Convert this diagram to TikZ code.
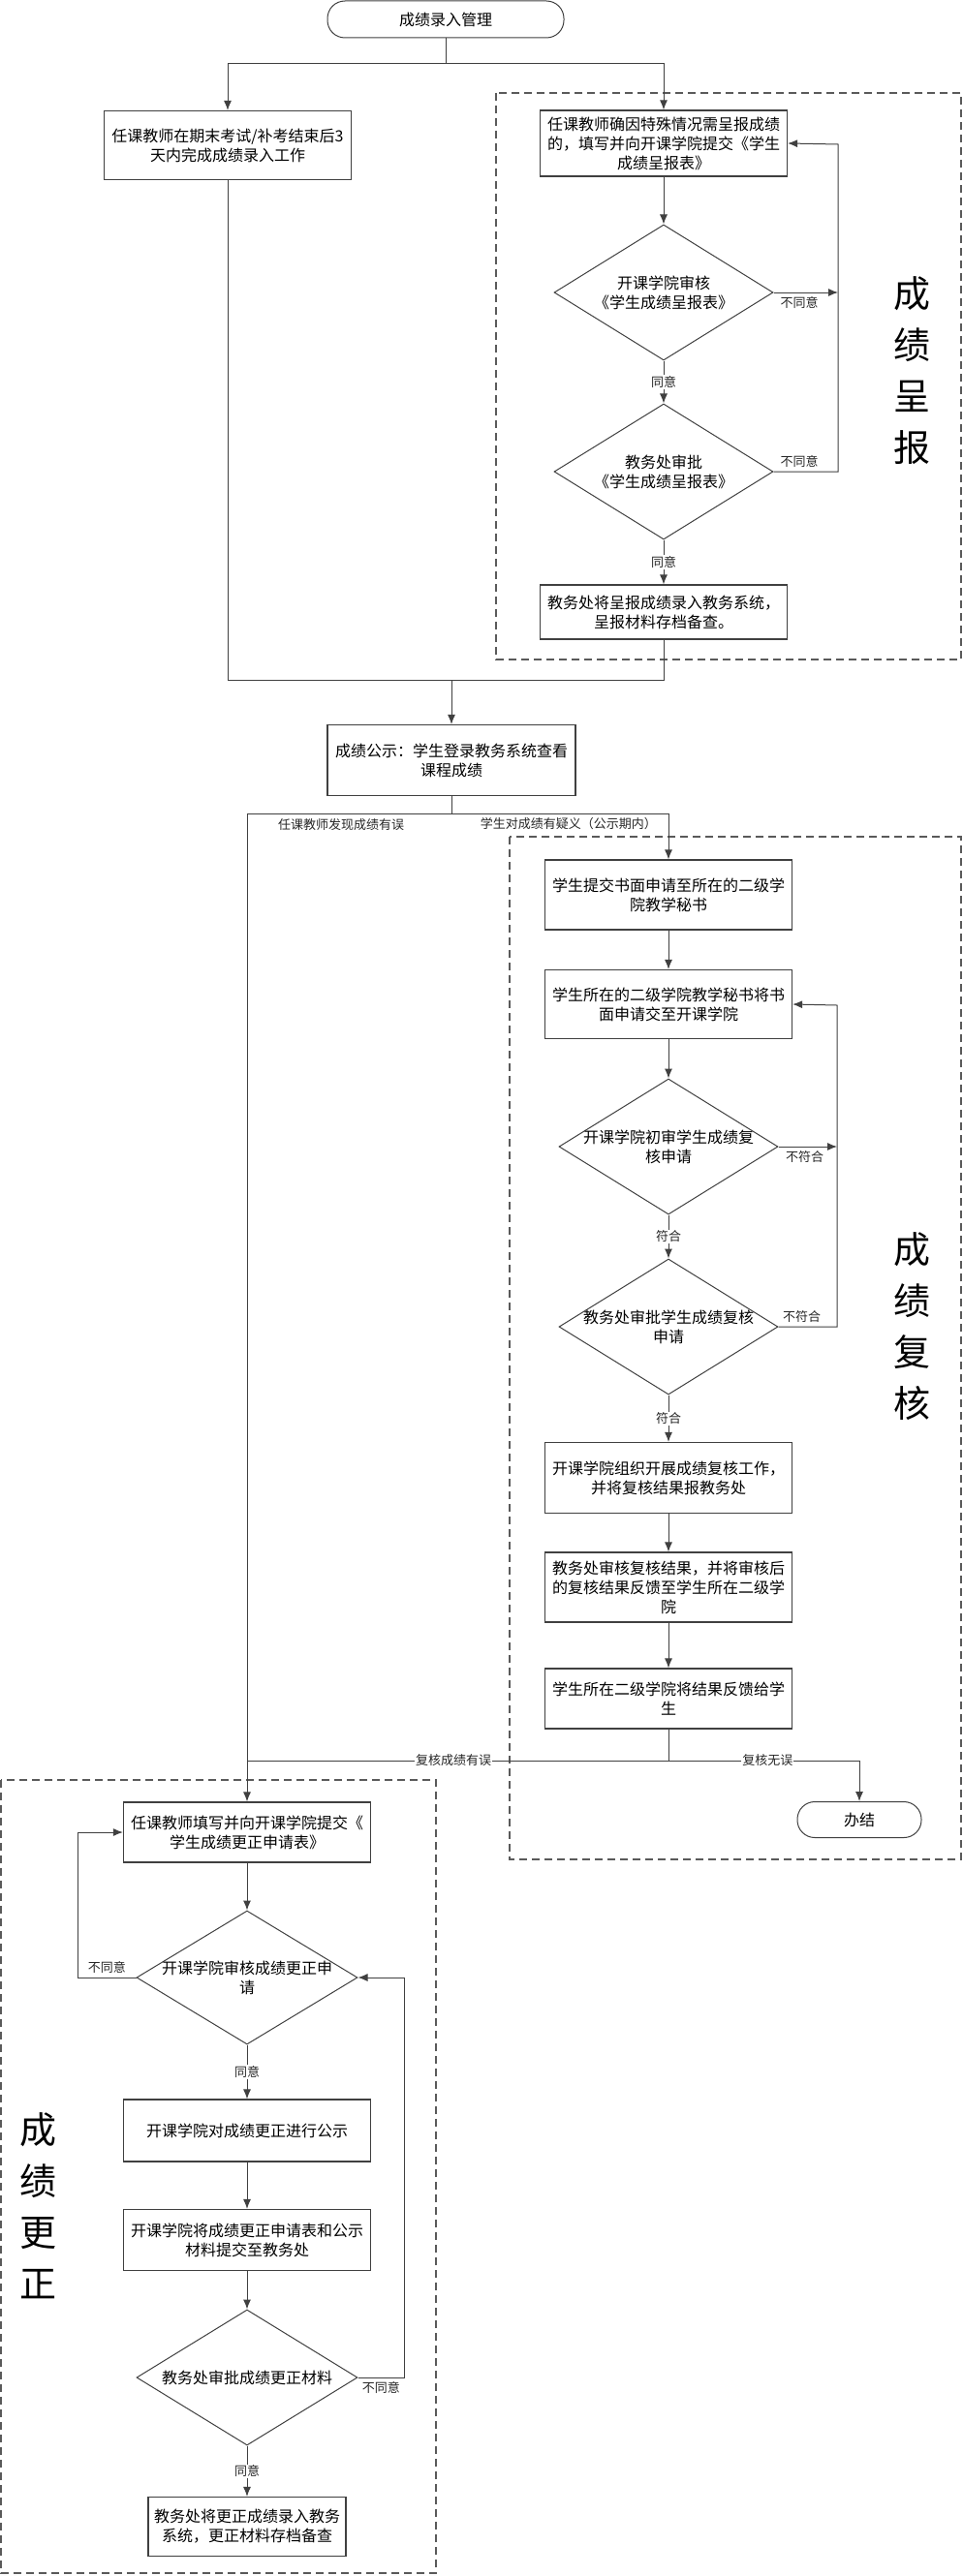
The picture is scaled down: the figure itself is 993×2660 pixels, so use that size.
\documentclass[tikz,border=0pt]{standalone}
\usepackage{fontspec}
\setmainfont{Noto Sans CJK SC}
\usepackage{tikz}
\usetikzlibrary{shapes.geometric}
\usetikzlibrary{arrows.meta}
\definecolor{linegray}{HTML}{404040}
\definecolor{dashgray}{HTML}{5A5A5A}
\tikzset{
	stepbox/.style = {draw=linegray, line width=1.2pt, minimum width=255pt, align=center, inner sep=4pt, font=\fontsize{16}{20}\selectfont},
	decision/.style = {diamond, draw=linegray, line width=1pt, minimum width=226pt, minimum height=140pt, inner sep=0pt},
	dtext/.style = {align=center, font=\fontsize{16}{20}\selectfont},
	terminal/.style = {draw=linegray, line width=1pt, rounded corners=18pt, align=center, font=\fontsize{16}{20}\selectfont},
	line/.style = {draw=linegray, line width=1pt},
	arr/.style = {line, -{Latex[length=10pt,width=8pt]}},
	lab/.style = {fill=white, inner sep=1pt, font=\fontsize{13}{15}\selectfont, text=black!85},
	note/.style = {inner sep=1pt, font=\fontsize{13}{15}\selectfont, text=black!85},
	group/.style = {draw=dashgray, line width=1.2pt, dash pattern=on 8pt off 5pt},
	bigtag/.style = {align=center, font=\fontsize{38}{53}\selectfont}
}

\begin{document}
\begin{tikzpicture}[x=1pt, y=-1pt]
		\useasboundingbox (0,0) rectangle (993,2660);
		
		% draw dashed groups
		\draw[group] (512,96) rectangle (992,681);
		\draw[group] (526,864) rectangle (992,1920);
		\draw[group] (1,1838) rectangle (450,2657);
		\node[bigtag] (tagrep) at (941,383) {成\\绩\\呈\\报};
		\node[bigtag] (tagrev) at (941,1370) {成\\绩\\复\\核};
		\node[bigtag] (tagcor) at (39,2278) {成\\绩\\更\\正};
		
		% draw entry nodes
		\node[terminal, minimum width=244pt, minimum height=38pt] (start) at (460,20) {成绩录入管理};
		\node[stepbox, minimum height=71pt] (entry) at (235,150) {任课教师在期末考试/补考结束后3\\天内完成成绩录入工作};
		
		% draw report nodes
		\node[stepbox, minimum height=68pt] (rep1) at (685,148) {任课教师确因特殊情况需呈报成绩\\的，填写并向开课学院提交《学生\\成绩呈报表》};
		\node[decision, label={[dtext]center:开课学院审核\\《学生成绩呈报表》}] (rep2) at (685,302) {};
		\node[decision, label={[dtext]center:教务处审批\\《学生成绩呈报表》}] (rep3) at (685,487) {};
		\node[stepbox, minimum height=56pt] (rep4) at (685,632) {教务处将呈报成绩录入教务系统，\\呈报材料存档备查。};
		
		% draw publish node
		\node[stepbox, minimum width=256pt, minimum height=73pt] (pub) at (466,785) {成绩公示：学生登录教务系统查看\\课程成绩};
		
		% draw review nodes
		\node[stepbox, minimum height=72pt] (rev1) at (690,924) {学生提交书面申请至所在的二级学\\院教学秘书};
		\node[stepbox, minimum height=71pt] (rev2) at (690,1037) {学生所在的二级学院教学秘书将书\\面申请交至开课学院};
		\node[decision, label={[dtext]center:开课学院初审学生成绩复\\核申请}] (rev3) at (690,1184) {};
		\node[decision, label={[dtext]center:教务处审批学生成绩复核\\申请}] (rev4) at (690,1370) {};
		\node[stepbox, minimum height=73pt] (rev5) at (690,1526) {开课学院组织开展成绩复核工作，\\并将复核结果报教务处};
		\node[stepbox, minimum height=72pt] (rev6) at (690,1639) {教务处审核复核结果，并将审核后\\的复核结果反馈至学生所在二级学\\院};
		\node[stepbox, minimum height=62pt] (rev7) at (690,1754) {学生所在二级学院将结果反馈给学\\生};
		\node[terminal, minimum width=128pt, minimum height=37pt] (done) at (887,1879) {办结};
		
		% draw correction nodes
		\node[stepbox, minimum height=62pt] (cor1) at (255,1892) {任课教师填写并向开课学院提交《\\学生成绩更正申请表》};
		\node[decision, minimum width=228pt, minimum height=138pt, label={[dtext]center:开课学院审核成绩更正申\\请}] (cor2) at (255,2042) {};
		\node[stepbox, minimum height=64pt] (cor3) at (255,2200) {开课学院对成绩更正进行公示};
		\node[stepbox, minimum height=63pt] (cor4) at (255,2313) {开课学院将成绩更正申请表和公示\\材料提交至教务处};
		\node[decision, minimum width=228pt, label={[dtext]center:教务处审批成绩更正材料}] (cor5) at (255,2455) {};
		\node[stepbox, minimum width=204pt, minimum height=61pt] (cor6) at (255,2609) {教务处将更正成绩录入教务\\系统，更正材料存档备查};
		
		% draw junctions
		\coordinate (s1) at (460,66);
		\coordinate (m1) at (466,702);
		\coordinate (s2) at (466,840);
		\coordinate (loopA) at (865,149);
		\coordinate (loopB) at (864,1038);
		\coordinate (m2) at (690,1818);
		\coordinate (j2) at (255,1818);
		\coordinate (loopC) at (80,1892);
		\coordinate (loopD) at (417,2042);
		
		% draw top connectors
		\draw[line] (start) -- (s1);
		\draw[arr] (s1) -| (entry);
		\draw[arr] (s1) -| (rep1);
		\draw[arr] (rep1) -- (rep2);
		\draw[arr] (rep2) -- node[lab] (ok1) {同意} (rep3);
		\draw[arr] (rep3) -- node[lab] (ok2) {同意} (rep4);
		\draw[arr] (rep2.east) -- node[note, below=3pt, pos=0.4] (no1) {不同意} (rep2.east -| loopA);
		\draw[arr] (rep3.east) -| node[note, above=3pt, pos=0.2] (no2) {不同意} (loopA) -- (rep1.east);
		\draw[line] (entry) |- (m1);
		\draw[line] (rep4) |- (m1);
		\draw[arr] (m1) -- (pub);
		
		% draw review connectors
		\draw[line] (pub) -- (s2);
		\draw[arr] (s2) -| node[note, below=4pt, pos=0.27] (err1) {任课教师发现成绩有误} (cor1);
		\draw[arr] (s2) -| node[note, below=3pt, pos=0.27] (ask1) {学生对成绩有疑义（公示期内）} (rev1);
		\draw[arr] (rev1) -- (rev2);
		\draw[arr] (rev2) -- (rev3);
		\draw[arr] (rev3) -- node[lab] (ok3) {符合} (rev4);
		\draw[arr] (rev4) -- node[lab] (ok4) {符合} (rev5);
		\draw[arr] (rev3.east) -- node[note, below=3pt, pos=0.45] (no3) {不符合} (rev3.east -| loopB);
		\draw[arr] (rev4.east) -| node[note, above=3pt, pos=0.2] (no4) {不符合} (loopB) -- (rev2.east);
		\draw[arr] (rev5) -- (rev6);
		\draw[arr] (rev6) -- (rev7);
		\draw[line] (rev7) -- (m2);
		\draw[arr] (m2) -| node[lab, pos=0.26] (fine1) {复核无误} (done);
		\draw[line] (m2) -- node[lab, pos=0.51] (err2) {复核成绩有误} (j2);
		
		% draw correction connectors
		\draw[arr] (cor1) -- (cor2);
		\draw[arr] (cor2) -- node[lab] (ok5) {同意} (cor3);
		\draw[arr] (cor3) -- (cor4);
		\draw[arr] (cor4) -- (cor5);
		\draw[arr] (cor5) -- node[lab] (ok6) {同意} (cor6);
		\draw[arr] (cor2.west) -| node[note, above=3pt, pos=0.25] (no5) {不同意} (loopC) -- (cor1.west);
		\draw[arr] (cor5.east) -| node[note, below=3pt, pos=0.25] (no6) {不同意} (loopD) -- (cor2.east);
		
		\end{tikzpicture}
\end{document}
